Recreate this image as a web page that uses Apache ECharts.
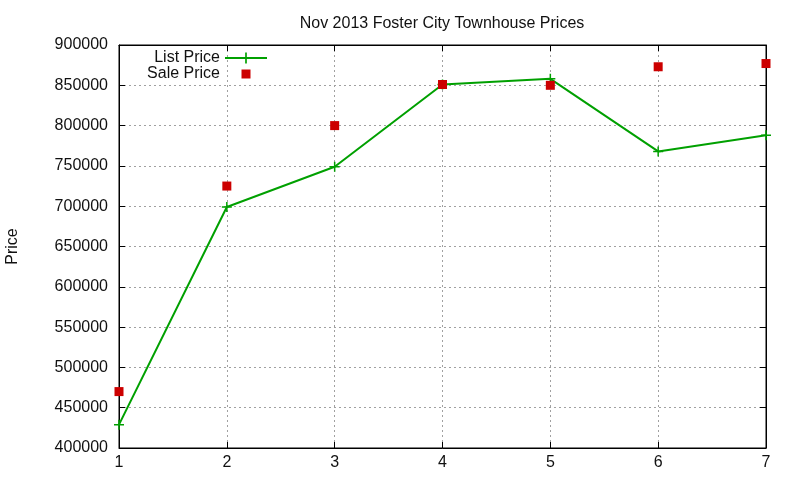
<!DOCTYPE html>
<html>
<head>
<meta charset="utf-8">
<script src="https://cdn.jsdelivr.net/npm/echarts@6/dist/echarts.min.js"></script>
<style>
  html, body { margin: 0; padding: 0; background: #fff; }
  #chart { width: 800px; height: 480px; }
</style>
</head>
<body>
<div id="chart"></div>
<script>
// values
const months = [1, 2, 3, 4, 5, 6, 7]
const listPrice = [429000, 699000, 749000, 851000, 858000, 768000, 788000]
const salePrice = [470000, 725000, 800000, 851000, 850000, 873000, 877000]

const font = 'Liberation Sans'
const gridLine = { show: true, lineStyle: { color: '#a0a0a0', type: [2, 3], width: 1 } }
const crossIcon = 'path://M4.25,0 H5.75 V4.25 H10 V5.75 H5.75 V10 H4.25 V5.75 H0 V4.25 H4.25 Z'

const chart = echarts.init(document.getElementById('chart'))

const yAxisBase = {
  type: 'value',
  min: 400000,
  max: 900000,
  interval: 50000,
  axisLine: { show: true, lineStyle: { color: '#000', width: 1 } },
  axisTick: { show: true, inside: true, length: 6, lineStyle: { color: '#000' } }
}
const xAxisBase = {
  type: 'value',
  min: 1,
  max: 7,
  interval: 1,
  axisLine: { show: true, onZero: false, lineStyle: { color: '#000', width: 1 } },
  axisTick: { show: true, inside: true, length: 6, lineStyle: { color: '#000' } }
}

chart.setOption({
  animation: false,
  backgroundColor: '#fff',
  textStyle: { fontFamily: font },
  title: {
    text: 'Nov 2013 Foster City Townhouse Prices',
    left: 437,
    textAlign: 'center',
    top: 11,
    textStyle: { fontFamily: font, fontSize: 16, fontWeight: 'normal', color: '#111' }
  },
  legend: {
    orient: 'vertical',
    align: 'right',
    right: 527,
    top: 45,
    itemWidth: 42,
    itemHeight: 14,
    itemGap: 0,
    textStyle: { fontFamily: font, fontSize: 16, color: '#111', lineHeight: 16 },
    data: [
      { name: 'List Price' },
      { name: 'Sale Price', icon: 'path://M0,0 M42,14 M16.5,2.5 H25.5 V11.5 H16.5 Z' }
    ]
  },
  grid: {
    left: 119,
    right: 34,
    top: 45,
    bottom: 32,
    outerBoundsMode: 'none',
    show: true,
    borderColor: '#000',
    borderWidth: 1
  },
  xAxis: [
    Object.assign({}, xAxisBase, {
      position: 'bottom',
      splitLine: gridLine,
      axisLabel: { fontFamily: font, fontSize: 16, color: '#111', margin: 7 }
    }),
    Object.assign({}, xAxisBase, {
      position: 'top',
      splitLine: { show: false },
      axisLabel: { show: false }
    })
  ],
  yAxis: [
    Object.assign({}, yAxisBase, {
      position: 'left',
      name: 'Price',
      nameLocation: 'middle',
      nameGap: 98,
      nameTextStyle: { fontFamily: font, fontSize: 16, color: '#111' },
      splitLine: gridLine,
      axisLabel: { fontFamily: font, fontSize: 16, color: '#111', margin: 11, formatter: v => String(v) }
    }),
    Object.assign({}, yAxisBase, {
      position: 'right',
      splitLine: { show: false },
      axisLabel: { show: false }
    })
  ],
  series: [
    {
      name: 'List Price',
      type: 'line',
      data: months.map((m, i) => [m, listPrice[i]]),
      symbol: crossIcon,
      symbolSize: 10,
      showAllSymbol: true,
      itemStyle: { color: '#00a000' },
      lineStyle: { color: '#00a000', width: 2 },
      z: 3
    },
    {
      name: 'Sale Price',
      type: 'scatter',
      data: months.map((m, i) => [m, salePrice[i]]),
      symbol: 'rect',
      symbolSize: 9,
      itemStyle: { color: '#cc0000', opacity: 1 },
      z: 4
    }
  ]
})
</script>
</body>
</html>
